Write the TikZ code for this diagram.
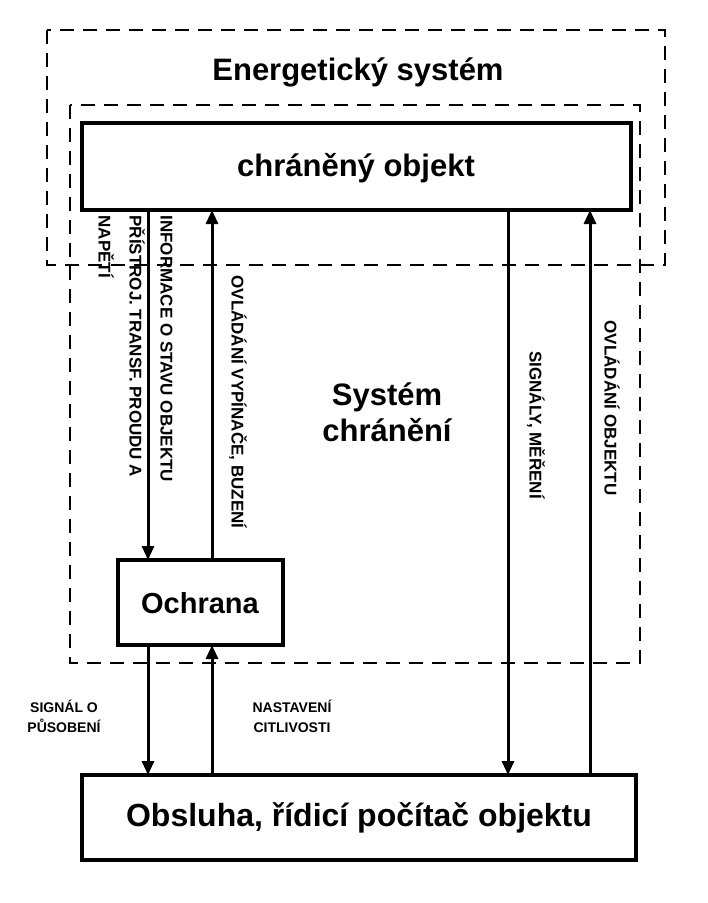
\documentclass[tikz,border=0pt]{standalone}
\usepackage{fontspec}
\setmainfont{Liberation Sans}
\usetikzlibrary{arrows.meta,positioning}

\begin{document}
\begin{tikzpicture}[
    x=1pt, y=-1pt,
    line width=3pt,
    >={Triangle[length=14pt,width=12pt]},
    box/.style = {draw, line width=3.2pt},
    frame/.style = {draw, line width=2.8pt, dash pattern=on 14pt off 9pt},
    title/.style = {font=\bfseries\fontsize{31}{36}\selectfont},
    vlabel/.style = {font=\bfseries\fontsize{17}{31}\selectfont, rotate=-90, inner sep=0pt},
    hlabel/.style = {font=\bfseries\fontsize{14}{20}\selectfont, align=center},
    arrow/.style = {->},
]
\useasboundingbox (0,0) rectangle (708,903);

%–––– FRAMES ––––
\draw[frame] (47,30) rectangle (665,265);
\draw[frame] (70,105) rectangle (640,663);
\node[title] (energ) at (358,72) {Energetický systém};
\node[title, align=center] (sys) at (387,412) {Systém\\chránění};

%–––– BLOCKS ––––
\draw[box, fill=white] (82,123) rectangle (631,210);
\node[title] (obj) at (356,168) {chráněný objekt};

\draw[box] (118,560) rectangle (283,645);
\node[title, font=\bfseries\fontsize{29}{34}\selectfont] (och) at (200,603) {Ochrana};

\draw[box] (82,775) rectangle (636,860);
\node[title, font=\bfseries\fontsize{32}{36}\selectfont] (obs) at (359,818) {Obsluha, řídicí počítač objektu};

%–––– CONNECTORS ––––
\foreach \x/\ya/\yb in {148/210/560, 212/560/210, 148/645/775, 212/775/645, 508/210/775, 590/775/210}
  \draw[arrow] (\x,\ya) -- (\x,\yb);

%–––– LABELS ––––
\node[vlabel, align=left, anchor=north west] (info) at (174,214)
  {INFORMACE O STAVU OBJEKTU\\PŘÍSTROJ. TRANSF. PROUDU A\\NAPĚTÍ};
\node[vlabel] (ovl1) at (238,402) {OVLÁDÁNÍ VYPÍNAČE, BUZENÍ};
\node[vlabel] (sig) at (536,425) {SIGNÁLY, MĚŘENÍ};
\node[vlabel] (ovl2) at (612,408) {OVLÁDÁNÍ OBJEKTU};
\node[hlabel] (pus) at (64,716) {SIGNÁL O\\PŮSOBENÍ};
\node[hlabel] (nast) at (292,716) {NASTAVENÍ\\CITLIVOSTI};
\end{tikzpicture}
\end{document}
